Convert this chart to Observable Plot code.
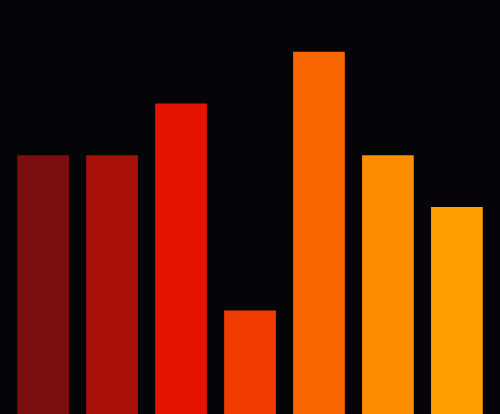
<!DOCTYPE html>
<html>
<head>
<meta charset="utf-8">
<script src="https://cdn.jsdelivr.net/npm/d3@7"></script>
<script src="https://cdn.jsdelivr.net/npm/@observablehq/plot@0.6"></script>
<style>
html, body { margin: 0; padding: 0; background: #050407; overflow: hidden; }
</style>
</head>
<body>
<div id="chart"></div>
<script>
const categories = ["A", "B", "C", "D", "E", "F", "G"];
const values = [5, 5, 6, 2, 7, 5, 4];
const colors = ["#7a0e10", "#aa100a", "#e41400", "#f03c00", "#f86600", "#fe8c00", "#ffa000"];

const data = categories.map((c, i) => ({category: c, value: values[i]}));

const chart = Plot.plot({
  width: 500,
  height: 414,
  marginTop: 0,
  marginBottom: 0,
  marginLeft: 0,
  marginRight: 0,
  style: {background: "#050407"},
  x: {domain: categories, padding: 0.25, round: false, axis: null},
  y: {domain: [0, 8], axis: null},
  color: {domain: categories, range: colors},
  marks: [
    Plot.barY(data, {x: "category", y: "value", fill: "category"})
  ]
});
document.getElementById("chart").appendChild(chart);
</script>
</body>
</html>
